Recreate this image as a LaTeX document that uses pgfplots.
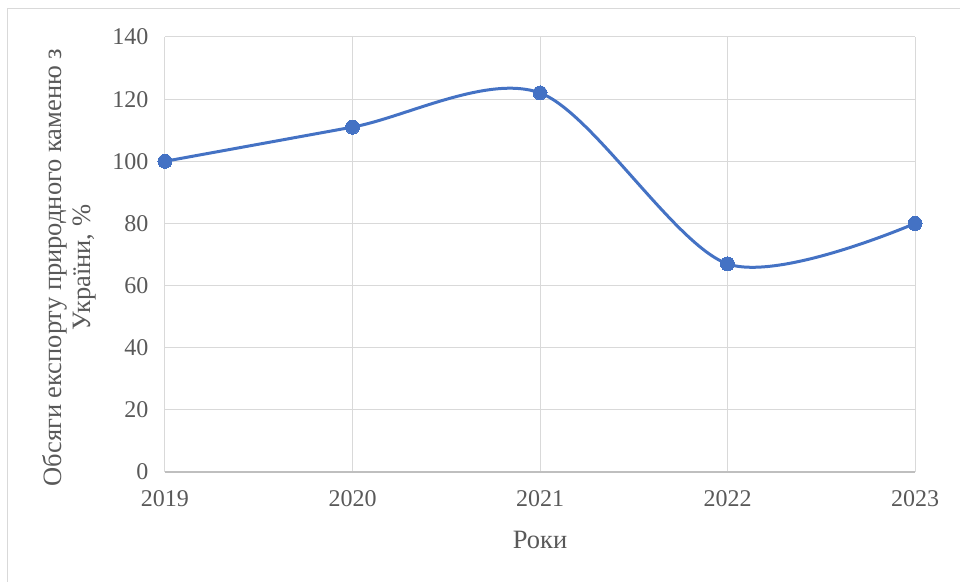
\documentclass[border=0pt]{standalone}
\usepackage{fontspec}
\setmainfont{Liberation Serif}
\usepackage{pgfplots}
\pgfplotsset{compat=1.18}
\definecolor{lineblue}{HTML}{4472C4}
\definecolor{gridgray}{HTML}{D9D9D9}
\definecolor{axisgray}{HTML}{BFBFBF}
\definecolor{txtgray}{HTML}{595959}
\begin{document}
\begin{tikzpicture}[x=1pt,y=1pt]
\useasboundingbox (-165,-109) rectangle (795,472);
\draw[gridgray, line width=1.3pt] (-157.5,-115) -- (-157.5,463.5) -- (800,463.5);
\begin{axis}[at={(0,0)}, anchor=south west, scale only axis,
  width=750pt, height=435pt,
  xmin=2019, xmax=2023, ymin=0, ymax=140,
  xtick={2019,2020,2021,2022,2023}, ytick={0,20,...,140},
  /pgf/number format/assume math mode=true,
  /pgf/number format/1000 sep={},
  grid=major, major grid style={gridgray, line width=1pt},
  axis x line=bottom, axis y line=left,
  x axis line style={axisgray, line width=1.2pt, -},
  y axis line style={draw=none},
  major tick length=0pt,
  tick label style={font=\fontsize{24}{28}\selectfont, text=txtgray},
  yticklabel style={xshift=-13pt},
  xticklabel style={yshift=-15pt},
  xlabel={Роки},
  ylabel={Обсяги експорту природного каменю з\\України, \%},
  label style={font=\fontsize{26.5}{29}\selectfont, text=txtgray},
  xlabel style={at={(axis description cs:0.5,0)}, anchor=base, yshift=-76pt},
  ylabel style={at={(axis description cs:-0.128,0.47)}, anchor=center, align=center},
]
\addplot[lineblue, line width=3pt, smooth, tension=0.5, mark=*, mark size=7pt,
  mark options={fill=lineblue, draw=lineblue, line width=0pt}]
  coordinates {(2019,100) (2020,111) (2021,122) (2022,67) (2023,80)};
\end{axis}
\end{tikzpicture}
\end{document}
